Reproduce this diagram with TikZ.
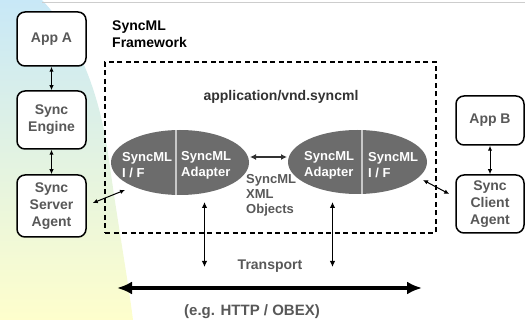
\documentclass[tikz,border=0pt]{standalone}
\usepackage{fontspec}
\setmainfont{Liberation Sans}
\usetikzlibrary{arrows.meta,shapes.geometric,calc}

\definecolor{bgtop}{RGB}{200,232,247}
\definecolor{bgmid}{RGB}{228,243,226}
\definecolor{bgbot}{RGB}{254,254,204}
\definecolor{boxtxt}{RGB}{88,88,88}
\definecolor{headtxt}{RGB}{50,50,50}
\definecolor{ellfill}{RGB}{108,108,108}
\definecolor{divider}{RGB}{200,200,200}
\definecolor{rule}{RGB}{205,205,205}

\tikzset{
  agentbox/.style={draw, line width=1.5pt, rounded corners=8pt, fill=white,
    minimum width=69pt, inner sep=0pt, text=boxtxt, align=center,
    font=\bfseries\fontsize{14}{17}\selectfont},
  frame/.style={draw, line width=1.4pt, dash pattern=on 5pt off 3.5pt, inner sep=0pt},
  adapter/.style={ellipse, fill=ellfill, inner sep=0pt},
  elltext/.style={text=white, align=left, anchor=west, inner sep=0pt,
    font=\bfseries\fontsize{13}{16}\selectfont},
  label/.style={inner sep=0pt, font=\bfseries\fontsize{14}{17}\selectfont},
  smallarrow/.style={line width=1pt, {Latex[length=5pt,width=4.5pt]}-{Latex[length=5pt,width=4.5pt]}},
  xmlarrow/.style={line width=1.5pt, draw=headtxt, {Latex[length=6pt,width=6pt]}-{Latex[length=6pt,width=6pt]}},
  busarrow/.style={line width=1.4pt, {Latex[length=6pt,width=5.5pt]}-{Latex[length=6pt,width=5.5pt]}},
  bigarrow/.style={line width=4.5pt, {Latex[length=15pt,width=13pt]}-{Latex[length=15pt,width=13pt]}}
}

\begin{document}
\begin{tikzpicture}[x=1pt,y=-1pt]
\useasboundingbox (0,0) rectangle (525,320);

% soft coloured band on the left
\shade[top color=bgtop, middle color=bgmid, bottom color=bgbot]
  (0,0) -- (42,0) .. controls (80,40) and (100,95) .. (109,160)
  .. controls (118,225) and (128,280) .. (133,320) -- (0,320) -- cycle;
\draw[rule, line width=1pt] (42,3) -- (525,3);

% framework frame and its title
\node[frame, minimum width=331pt, minimum height=171pt] (fw) at (270.5,147.5) {};
\node[label, anchor=north west, align=left] (fwtitle) at (112,21) {SyncML\\Framework};
\node[label, text=headtxt] (mime) at (281,97) {application/vnd.syncml};

% server side
\node[agentbox, minimum height=54pt] (appA) at (51.5,39) {App A};
\node[agentbox, minimum height=58pt] (engine) at (51.5,120) {Sync\\Engine};
\node[agentbox, minimum height=62pt] (server) at (51.5,206) {Sync\\Server\\Agent};

% client side
\node[agentbox, minimum width=68pt, minimum height=49pt] (appB) at (490,120.5) {App B};
\node[agentbox, minimum width=68pt, minimum height=58pt] (client) at (490,204) {Sync\\Client\\Agent};

% adapters
\node[adapter, minimum width=138pt, minimum height=65pt] (ellL) at (180,162.5) {};
\node[adapter, minimum width=139pt, minimum height=64pt] (ellR) at (357.5,162) {};
\draw[divider, line width=1.5pt] ($(ellL.center)+(-4,-32.3)$) -- ($(ellL.center)+(-4,32.3)$);
\draw[divider, line width=1.5pt] ($(ellR.center)+(4.5,-31.8)$) -- ($(ellR.center)+(4.5,31.8)$);
\node[elltext] (ifL) at ($(ellL.center)+(-58,2.5)$) {SyncML\\I / F};
\node[elltext] (adL) at ($(ellL.center)+(1,2.5)$) {SyncML\\Adapter};
\node[elltext] (adR) at ($(ellR.center)+(-53.5,3)$) {SyncML\\Adapter};
\node[elltext] (ifR) at ($(ellR.center)+(10.5,3)$) {SyncML\\I / F};

\node[inner sep=0pt, anchor=north west, align=left, text=boxtxt,
  font=\bfseries\fontsize{13}{15}\selectfont] (xmlobj) at (246,174) {SyncML\\XML\\Objects};

% transport
\node[label, text=boxtxt] (transport) at (270,266) {Transport};
\node[inner sep=0pt, text=boxtxt, font=\bfseries\fontsize{15}{18}\selectfont] (egtext) at (252,312) {(e.g. HTTP / OBEX)};
\coordinate (busL) at (117,288);
\coordinate (busR) at (422,288);
\draw[bigarrow] (busL) -- (busR);

% connectors
\draw[smallarrow] (appA.south) -- (engine.north);
\draw[smallarrow] (engine.south) -- (server.north);
\draw[smallarrow] (appB.south) -- (client.north);
\draw[smallarrow] ([shift={(6,-3)}]server.east) -- ($(ellL.center)+(-55,27.5)$);
\draw[smallarrow] ($(ellR.center)+(65.5,18)$) -- ([shift={(-6,-10)}]client.west);
\draw[xmlarrow] ($(ellL.center)+(70,-5.5)$) -- ($(ellR.center)+(-70.5,-5)$);
\draw[busarrow] ($(ellL.center)+(24.5,39.5)$) -- ($(ellL.center)+(24.5,104.5)$);
\draw[busarrow] ($(ellR.center)+(-25,40)$) -- ($(ellR.center)+(-25,105)$);
\end{tikzpicture}
\end{document}
